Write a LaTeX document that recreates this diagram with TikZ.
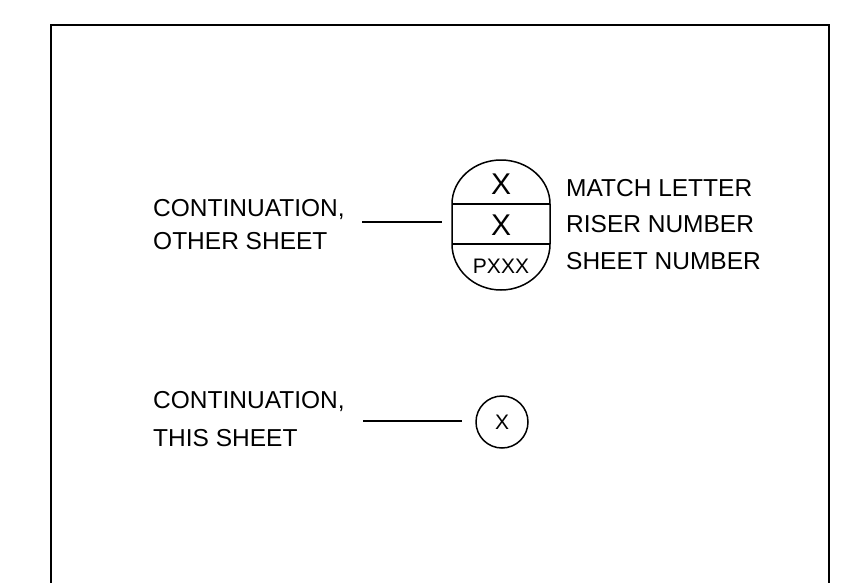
\documentclass[tikz,border=0pt]{standalone}
\usepackage{fontspec}
\setmainfont{Liberation Sans}
\begin{document}
\begin{tikzpicture}[x=1pt,y=-1pt,
  lbl/.style={inner sep=0pt,anchor=west,font=\fontsize{24.5}{29}\selectfont},
  big/.style={inner sep=0pt,font=\fontsize{30}{32}\selectfont},
  small/.style={inner sep=0pt,font=\fontsize{21}{24}\selectfont},
  ln/.style={line width=1.5pt}]
\useasboundingbox (0,0) rectangle (841,582);
\clip (0,0) rectangle (841,582);
\fill[white] (0,0) rectangle (841,582);
% frame
\draw[line width=2pt] (51,590) -- (51,25) -- (829,25) -- (829,590);
% symbol (other sheet)
\draw[ln] (452,204) arc[start angle=180,end angle=360,x radius=49,y radius=44]
  -- (550,244) arc[start angle=0,end angle=180,x radius=49,y radius=46] -- cycle;
\draw[ln] (452,204) -- (550,204);
\draw[ln] (452,244) -- (550,244);
\node[big] (m) at (501,184) {X};
\node[big] (r) at (501,225) {X};
\node[small] (s) at (501,266) {PXXX};
\node[lbl] (ml) at (566,188) {MATCH LETTER};
\node[lbl] (rl) at (566,224) {RISER NUMBER};
\node[lbl] (sl) at (566,261) {SHEET NUMBER};
% left labels top
\node[lbl] (c1) at (153,210) {CONTINUATION,};
\node[lbl] (o1) at (153,241) {OTHER SHEET};
\coordinate (a1) at (362,222);
\coordinate (b1) at (442,222);
\draw[ln] (a1) -- (b1);
% bottom
\node[lbl] (c2) at (153,402) {CONTINUATION,};
\node[lbl] (t2) at (153,438) {THIS SHEET};
\node[ln,draw,circle,minimum size=52pt,inner sep=0pt,font=\fontsize{21}{24}\selectfont] (cx) at (502,422) {X};
\coordinate (a2) at (363,421);
\coordinate (b2) at (462,421);
\draw[ln] (a2) -- (b2);
\end{tikzpicture}
\end{document}
